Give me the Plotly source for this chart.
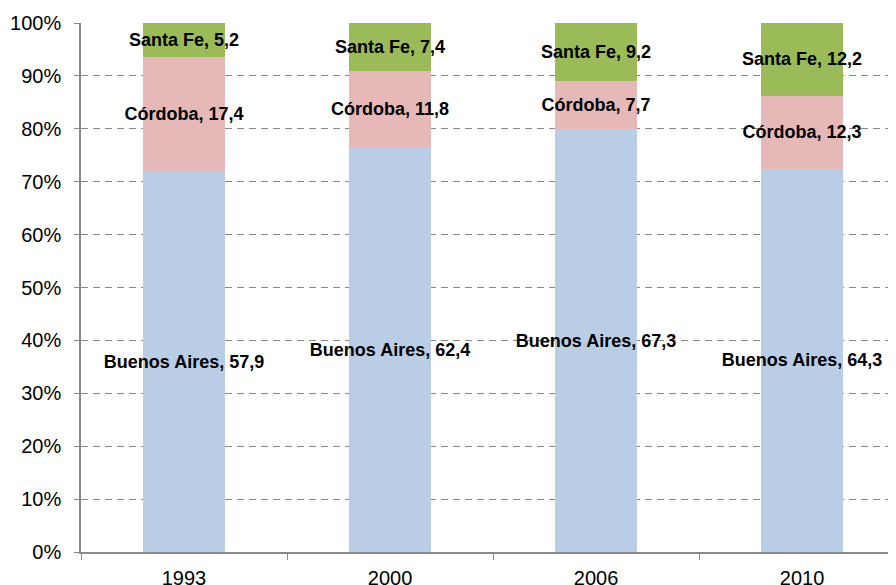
import plotly.graph_objs as go

years = ["1993", "2000", "2006", "2010"]
buenos_aires = [57.9, 62.4, 67.3, 64.3]
cordoba = [17.4, 11.8, 7.7, 12.3]
santa_fe = [5.2, 7.4, 9.2, 12.2]

series = [
    ("Buenos Aires", buenos_aires, "#B9CDE5"),
    ("Córdoba", cordoba, "#E6B9B8"),
    ("Santa Fe", santa_fe, "#9BBB59"),
]

font = "Arial, Liberation Sans, sans-serif"
grid = "#898989"

fig = go.Figure()
for name, vals, col in series:
    ## label text like Excel: "Name, 57,9"
    labels = [f"{name}, {v:.1f}".replace(".", ",") for v in vals]
    fig.add_trace(go.Bar(x=years, y=vals, name=name, marker_color=col,
                         marker_line_width=0, text=labels,
                         textposition="inside", insidetextanchor="middle",
                         textangle=0,
                         textfont=dict(family=font, size=18, color="black",
                                       weight="bold")))

## page has an 8px body margin, so margins are trimmed to match
fig.update_layout(barmode="stack", barnorm="percent", bargap=0.6,
                  width=896, height=585, showlegend=False,
                  plot_bgcolor="white", paper_bgcolor="white",
                  margin=dict(l=73, r=0, t=15, b=41),
                  uniformtext=dict(minsize=18, mode="show"),
                  font=dict(family=font, size=20, color="black"))

fig.update_xaxes(type="category", range=[-0.5, 3.495], showline=True,
                 linecolor=grid, linewidth=1.5, ticks="outside", ticklen=6,
                 tickcolor=grid, tickson="boundaries", showgrid=False,
                 ticklabelstandoff=7)
fig.update_yaxes(range=[0, 100], dtick=10, ticksuffix="%", showline=True,
                 linecolor=grid, linewidth=1.5, ticks="outside", ticklen=5,
                 tickcolor=grid, showgrid=True, gridcolor=grid, gridwidth=1.3,
                 griddash="7px,5px", zeroline=False, ticklabelstandoff=9)

fig.write_html("out.html")
